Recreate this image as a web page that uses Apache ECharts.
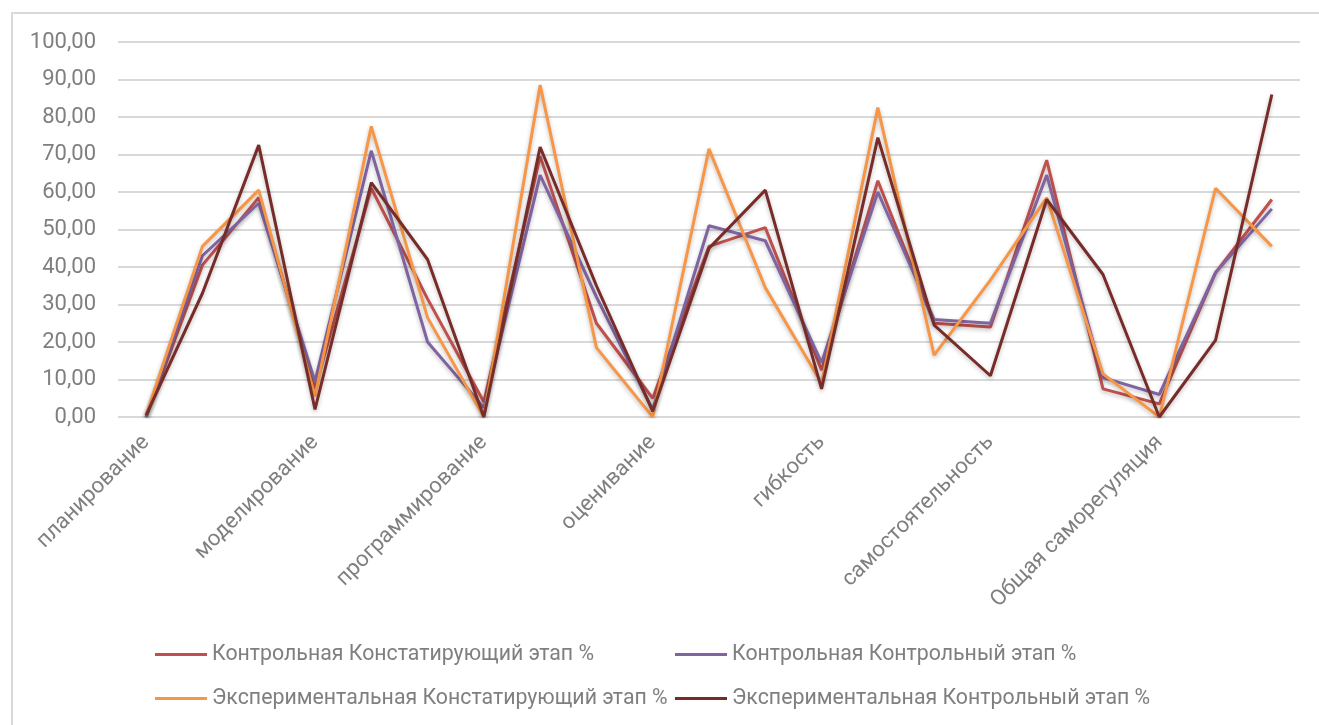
<!DOCTYPE html>
<html>
<head>
<meta charset="utf-8">
<script src="https://cdn.jsdelivr.net/npm/echarts@6/dist/echarts.min.js"></script>
<style>
  html, body { margin: 0; padding: 0; background: #ffffff; }
  #chart { width: 1319px; height: 725px; }
</style>
</head>
<body>
<div id="chart"></div>
<script>
// Scales of the questionnaire; each one is reported at three levels
const scales = ['планирование', 'моделирование', 'программирование', 'оценивание',
                'гибкость', 'самостоятельность', 'Общая саморегуляция'];
const levels = ['низкий', 'средний', 'высокий'];

// Series names
const seriesNames = [
  'Контрольная Констатирующий этап %',
  'Контрольная Контрольный этап %',
  'Экспериментальная Констатирующий этап %',
  'Экспериментальная Контрольный этап %'
];

// Percentages per scale/level (21 points each)
const kontrKonst = [0, 40.5, 58.5, 7.5, 61, 31.5, 4, 69.5, 25, 5, 45.5, 50.5, 12.5, 63, 25, 24, 68.5, 7.5, 3.5, 38.5, 58];
const kontrKontr = [0, 43, 57, 9.5, 71, 20, 2.5, 64.5, 32, 2, 51, 47, 14.5, 60, 26, 25, 64.5, 10.5, 6, 38.5, 55.5];
const expKonst   = [0.5, 45.5, 60.5, 5.5, 77.5, 26.5, 0, 88.5, 18.5, 0, 71.5, 34.5, 9, 82.5, 16.5, 36.5, 58.5, 11.5, 0, 61, 45.5];
const expKontr   = [0.5, 33, 72.5, 2, 62.5, 42, 0, 72, 35, 1.5, 45, 60.5, 7.5, 74.5, 24.5, 11, 58, 38, 0, 20.5, 86];

const categories = scales.flatMap(s => levels.map(l => s + ' (' + l + ')'));
const seriesData = [kontrKonst, kontrKontr, expKonst, expKontr];
const colors = ['#C0504D', '#8064A2', '#F79646', '#772C2A'];

const textColor = '#7f7f7f';
const fontFamily = 'Roboto, "Liberation Sans", sans-serif';
const fontSize = 22;

const chart = echarts.init(document.getElementById('chart'), null, { renderer: 'canvas' });

const legendCommon = {
  orient: 'vertical',
  top: 644,
  padding: 0,
  itemGap: 23,
  itemWidth: 52,
  itemHeight: 3,
  icon: 'rect',
  selectedMode: false,
  textStyle: { color: textColor, fontSize: 21.3, fontFamily: fontFamily, padding: [0, 0, 0, 0] }
};

chart.setOption({
  animation: false,
  color: colors,
  graphic: [{
    type: 'rect',
    shape: { x: 12, y: 13, width: 1400, height: 800 },
    style: { fill: 'none', stroke: '#d9d9d9', lineWidth: 2 },
    silent: true
  }],
  grid: { left: 118, right: 19, top: 42, bottom: 308, containLabel: false },
  legend: [
    Object.assign({}, legendCommon, { left: 155, data: [seriesNames[0], seriesNames[2]] }),
    Object.assign({}, legendCommon, { left: 675, data: [seriesNames[1], seriesNames[3]] })
  ],
  xAxis: {
    type: 'category',
    data: categories,
    boundaryGap: true,
    axisLine: { show: false },
    axisTick: { show: false },
    axisLabel: {
      interval: 2,
      rotate: 45,
      margin: 22,
      color: textColor,
      fontSize: fontSize,
      fontFamily: fontFamily,
      formatter: (value, index) => scales[Math.floor(index / levels.length)]
    },
    splitLine: { show: false }
  },
  yAxis: {
    type: 'value',
    min: 0,
    max: 100,
    interval: 10,
    axisLine: { show: false },
    axisTick: { show: false },
    axisLabel: {
      margin: 22,
      color: textColor,
      fontSize: fontSize,
      fontFamily: fontFamily,
      formatter: v => v.toFixed(2).replace('.', ',')
    },
    splitLine: { lineStyle: { color: '#d9d9d9', width: 2 } }
  },
  series: seriesData.map((d, i) => ({
    name: seriesNames[i],
    type: 'line',
    data: d,
    symbol: 'none',
    lineStyle: {
      width: 3,
      color: colors[i],
      shadowColor: 'rgba(0,0,0,0.25)',
      shadowBlur: 4,
      shadowOffsetY: 2
    }
  }))
});
</script>
</body>
</html>
